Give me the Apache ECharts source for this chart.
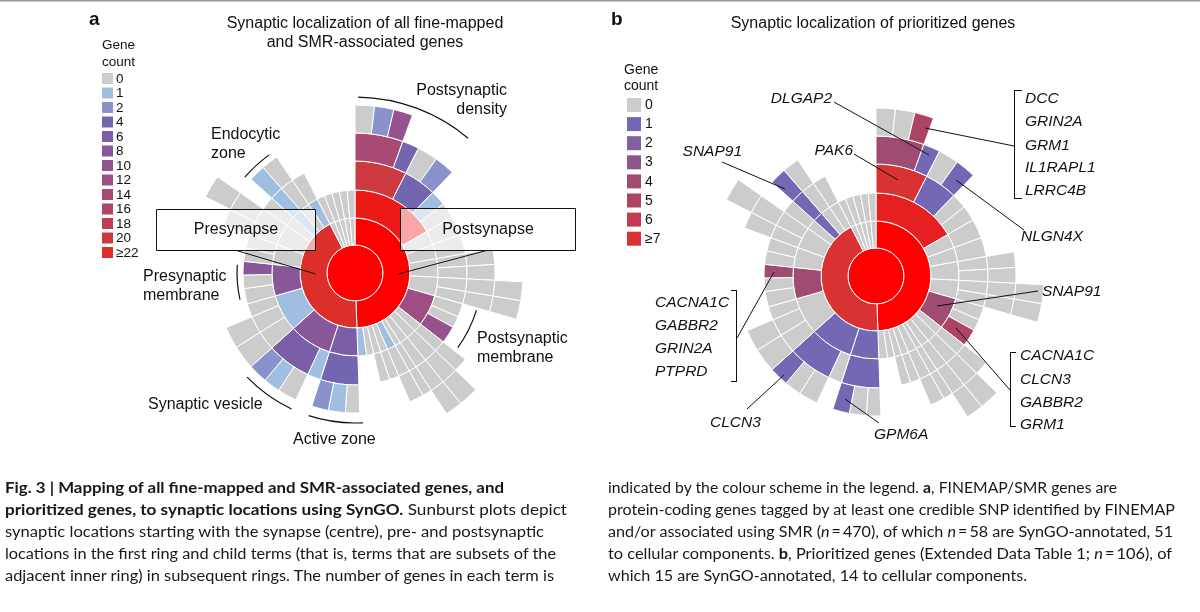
<!DOCTYPE html>
<html><head><meta charset="utf-8">
<script src="https://cdn.jsdelivr.net/npm/echarts@6/dist/echarts.min.js"></script>
<style>
html,body{margin:0;padding:0;background:#fff;width:1200px;height:612px;overflow:hidden;}
#chart{position:absolute;left:0;top:0;width:1200px;height:612px;}
.cap{position:absolute;white-space:nowrap;font-family:Lato,"Open Sans",sans-serif;font-size:15.5px;line-height:18px;color:#1a1718;transform-origin:0 50%;}
.cap b{font-weight:700;}
</style></head><body>
<div id="chart"></div>
<script>
// ---------------- legend bins / tick labels ----------------
const legendAValues = [0, 1, 2, 4, 6, 8, 10, 12, 14, 16, 18, 20, 22];
const legendALabels = ['0', '1', '2', '4', '6', '8', '10', '12', '14', '16', '18', '20', '≥22'];
const legendAColors = ['#cccccc', '#a0bfe0', '#8a92cc', '#7466ae', '#7a5ea6', '#88579a', '#94528e', '#9e4e82', '#a84a74', '#b24466', '#be3e58', '#cc3a40', '#dd2f2a'];
const legendBValues = [0, 1, 2, 3, 4, 5, 6, 7];
const legendBLabels = ['0', '1', '2', '3', '4', '5', '6', '≥7'];
const legendBColors = ['#cccccc', '#7468b4', '#80609e', '#8e5688', '#a04c72', '#ae4464', '#c03c50', '#d83232'];

// ---------------- SynGO cellular-component terms ----------------
// node: [gene count (a), gene count (b), angular size | child terms]
const synapseCount = [51, 14];
const postsynapseTerms = [35, 10, [
  [26, 8, [                                   // postsynaptic specialization
    [20, 7, [                                 // postsynaptic density
      [14, 4, [[0, 0, 6.7], [2, 0, 6.7], [10, 5, 6.6]]],
      [4, 1, 7]]],
    [4, 1, [[0, 0, 8.5], [2, 1, 8.5]]],
    [1, 0, 8],
    [0, 0, 8]]],
  [0, 0, [[0, 0, 10]]],
  [0, 0, [[0, 0, 10]]],
  [0, 0, [[0, 0, [[0, 0, 6.5]]], [0, 0, [[0, 0, 6.5]]]]],
  [0, 0, [[0, 0, [[0, 0, [[0, 0, 6.5]]]]], [0, 0, [[0, 0, [[0, 0, 6.5]]]]]]],
  [12, 4, [[0, 0, 7], [0, 0, 6], [10, 5, 9]]],  // postsynaptic membrane
  [0, 0, [[0, 0, [[0, 0, 6]]]]],
  [0, 0, [[0, 0, [[0, 0, [[0, 0, 7]]]]]]],
  [0, 0, [[0, 0, [[0, 0, [[0, 0, 6]]]]]]],
  [0, 0, [[0, 0, [[0, 0, 4]]]]],
  [1, 0, [[0, 0, [[0, 0, 6]]]]],
  [0, 0, [[0, 0, 5]]],
  [0, 0, [[0, 0, 5]]],
  [0, 0, 5],
  [1, 0, 6]
]];
const presynapseTerms = [22, 7, [
  [6, 1, [[4, 1, [[0, 0, 6], [1, 0, 7], [2, 1, 7]]]]],          // active zone
  [8, 1, [[1, 0, 7], [6, 1, [[0, 0, 8], [1, 0, 7], [2, 1, 8]]]]], // synaptic vesicle
  [1, 0, [[0, 0, [[0, 0, 10]]], [0, 0, [[0, 0, 9]]], [0, 0, 7]]],
  [8, 4, [[0, 0, 8], [0, 0, 7], [8, 4, 7]]],                      // presynaptic membrane
  [0, 0, [[0, 0, 7], [0, 0, 7]]],
  [0, 0, [[0, 0, [[0, 0, 7]]], [0, 0, [[0, 0, [[0, 0, 8]]]]]]],
  [0, 0, [[0, 0, 7]]],
  [1, 1, [[1, 1, [[1, 1, 7]]]]],                                  // endocytic zone
  [0, 0, [[0, 0, [[0, 0, 7]]]]],
  [1, 0, [[0, 0, 7]]]
]];
const otherSynapseTerms = [
  [0, 0, [[0, 0, 5.4]]], [0, 0, [[0, 0, 5.4]]], [0, 0, [[0, 0, 5.4]]],
  [0, 0, [[0, 0, 5.4]]], [0, 0, [[0, 0, 5.4]]]
];

// ---------------- helpers ----------------
function hex2rgb(h) { return [1, 3, 5].map(i => parseInt(h.substr(i, 2), 16)); }
function mix(a, b, t) { const A = hex2rgb(a), B = hex2rgb(b); return 'rgb(' + A.map((v, i) => Math.round(v + (B[i] - v) * t)).join(',') + ')'; }
function makeColor(bins, colors) {
  const max = bins[bins.length - 1];
  return function (c) {
    if (c >= max) { const t = Math.min(1, (c - max) / (max * 0.4)); return mix(colors[colors.length - 1], '#ff0000', t); }
    let i = 0; while (i + 1 < bins.length && bins[i + 1] <= c) i++;
    return colors[i];
  };
}
function toItem(node, k, colorFn) {
  const c = node[k], w = node[2];
  const item = { name: '', itemStyle: { color: colorFn(c) } };
  if (Array.isArray(w)) item.children = w.map(n => toItem(n, k, colorFn)); else item.value = w;
  return item;
}
function buildTree(k, colorFn) {
  return {
    name: 'synapse', itemStyle: { color: colorFn(synapseCount[k]) },
    children: [toItem(postsynapseTerms, k, colorFn), toItem(presynapseTerms, k, colorFn)]
      .concat(otherSynapseTerms.map(n => toItem(n, k, colorFn)))
  };
}
const LEVELS = [{}, { r0: 0, r: 28 }, { r0: 28, r: 55 }, { r0: 55, r: 83 }, { r0: 83, r: 112 }, { r0: 112, r: 140 }, { r0: 140, r: 168 }];
function sunburst(center, tree) {
  return {
    type: 'sunburst', center: center, radius: [0, 168], sort: null, nodeClick: false,
    startAngle: 90, silent: true, animation: false,
    data: [tree], label: { show: false }, emphasis: { disabled: true },
    itemStyle: { borderColor: '#ffffff', borderWidth: 1 }, levels: LEVELS
  };
}

// ---------------- annotation graphics ----------------
const G = [];
const FONT = '"Liberation Sans", Arial, Helvetica, sans-serif';
function txt(x, y, s, size, opt) {
  opt = opt || {};
  const font = (opt.italic ? 'italic ' : '') + (opt.bold ? 'bold ' : '') + size + 'px ' + FONT;
  const al = opt.align || 'left';
  G.push({ type: 'text', z: 110, silent: true, style: { text: s, x: x, y: y, font: font, fill: opt.color || '#111',
    textAlign: al, textVerticalAlign: 'middle', align: al, verticalAlign: 'middle' } });
}
function ln(x1, y1, x2, y2, w) { G.push({ type: 'line', z: 105, silent: true, shape: { x1, y1, x2, y2 }, style: { stroke: '#111', lineWidth: w || 1 } }); }
function arcDeg(cx, cy, r, a1, a2) {
  G.push({ type: 'arc', z: 105, silent: true, shape: { cx, cy, r, startAngle: (a1 - 90) * Math.PI / 180, endAngle: (a2 - 90) * Math.PI / 180, clockwise: true },
    style: { stroke: '#111', fill: null, lineWidth: 1.2 } });
}
function box(x, y, w, h) { G.push({ type: 'rect', z: 100, silent: true, shape: { x, y, width: w, height: h }, style: { fill: 'rgba(255,255,255,0.62)', stroke: '#111', lineWidth: 1 } }); }
function sw(x, y, w, h, color) { G.push({ type: 'rect', z: 100, silent: true, shape: { x, y, width: w, height: h }, style: { fill: color } }); }

// top rule
sw(0, 0, 1200, 1.5, '#999999');

// ---- panel a ----
const CA = [355, 273];
txt(89, 19.5, 'a', 19, { bold: true });
txt(365, 24, 'Synaptic localization of all fine-mapped', 16, { align: 'center' });
txt(365, 43, 'and SMR-associated genes', 16, { align: 'center' });
txt(102, 45, 'Gene', 13.5); txt(102, 62, 'count', 13.5);
legendALabels.forEach((l, i) => { sw(102, 73 + 14.5 * i, 11, 11, legendAColors[i]); txt(116, 73 + 14.5 * i + 5.8, l, 13.5); });
box(156.5, 209.5, 159, 41); box(400.5, 208.5, 175, 42);
txt(236, 230, 'Presynapse', 16, { align: 'center' });
txt(488, 230, 'Postsynapse', 16, { align: 'center' });
ln(236.5, 250.5, 315.7, 274); ln(486.5, 250.5, 398.3, 274);
txt(507, 90.5, 'Postsynaptic', 16, { align: 'right' }); txt(507, 109.5, 'density', 16, { align: 'right' });
arcDeg(CA[0], CA[1], 176, 1, 40);
txt(211, 134.5, 'Endocytic', 16); txt(211, 153.5, 'zone', 16);
arcDeg(CA[0], CA[1], 146, 311, 324);
txt(143, 277, 'Presynaptic', 16); txt(143, 296, 'membrane', 16);
arcDeg(CA[0], CA[1], 118, 257, 274);
txt(477, 338.5, 'Postsynaptic', 16); txt(477, 357.5, 'membrane', 16);
arcDeg(CA[0], CA[1], 127, 107, 126);
txt(148, 404.5, 'Synaptic vesicle', 16);
arcDeg(CA[0], CA[1], 150, 205, 226);
txt(293, 440, 'Active zone', 16);
arcDeg(CA[0], CA[1], 150, 177, 198);

// ---- panel b ----
const CB = [876, 276];
txt(611, 19.5, 'b', 19, { bold: true });
txt(873, 24, 'Synaptic localization of prioritized genes', 16, { align: 'center' });
txt(624, 70, 'Gene', 14); txt(624, 86, 'count', 14);
legendBLabels.forEach((l, i) => { sw(627, 98 + 19.1 * i, 14, 14, legendBColors[i]); txt(645, 98 + 19.1 * i + 7.3, l, 14); });
const IT = { italic: true };
txt(832, 99, 'DLGAP2', 15.5, { italic: true, align: 'right' }); ln(834, 102, 929, 155);
txt(853, 151, 'PAK6', 15.5, { italic: true, align: 'right' }); ln(854, 154, 898, 180);
txt(742, 152, 'SNAP91', 15.5, { italic: true, align: 'right' }); ln(722, 162, 785, 189);
['DCC', 'GRIN2A', 'GRM1', 'IL1RAPL1', 'LRRC4B'].forEach((g, i) => txt(1025, [99, 122, 145.5, 168, 191][i], g, 15.5, IT));
ln(1014.5, 90, 1014.5, 199); ln(1014.5, 90.5, 1022, 90.5); ln(1014.5, 198.5, 1022, 198.5); ln(1014, 146, 925, 128);
txt(1021, 237, 'NLGN4X', 15.5, IT); ln(1024, 230, 956, 180);
txt(1042, 292, 'SNAP91', 15.5, IT); ln(1038, 291, 937, 306);
['CACNA1C', 'GABBR2', 'GRIN2A', 'PTPRD'].forEach((g, i) => txt(655, [303, 326, 349, 372][i], g, 15.5, IT));
ln(736.5, 290, 736.5, 382); ln(731, 290.5, 736.5, 290.5); ln(731, 381.5, 736.5, 381.5); ln(737, 338, 774, 272);
['CACNA1C', 'CLCN3', 'GABBR2', 'GRM1'].forEach((g, i) => txt(1020, [356, 379.5, 402.5, 425][i], g, 15.5, IT));
ln(1010.5, 352, 1010.5, 427); ln(1010.5, 352.5, 1016, 352.5); ln(1010.5, 426.5, 1016, 426.5); ln(1010, 390, 956, 328);
txt(710, 423, 'CLCN3', 15.5, IT); ln(747, 409, 784, 375);
txt(874, 435, 'GPM6A', 15.5, IT); ln(879, 423, 845, 399);

const chart = echarts.init(document.getElementById('chart'), null, { renderer: 'canvas', width: 1200, height: 612 });
chart.setOption({
  animation: false,
  series: [
    sunburst(CA, buildTree(0, makeColor(legendAValues, legendAColors))),
    sunburst(CB, buildTree(1, makeColor(legendBValues, legendBColors)))
  ],
  graphic: { elements: G }
});

// ---------------- caption ----------------
const captionLeft = [
  '<b>Fig. 3 | Mapping of all fine-mapped and SMR-associated genes, and</b>',
  '<b>prioritized genes, to synaptic locations using SynGO.</b> Sunburst plots depict',
  'synaptic locations starting with the synapse (centre), pre- and postsynaptic',
  'locations in the first ring and child terms (that is, terms that are subsets of the',
  'adjacent inner ring) in subsequent rings. The number of genes in each term is'
];
const captionRight = [
  'indicated by the colour scheme in the legend. <b>a</b>, FINEMAP/SMR genes are',
  'protein-coding genes tagged by at least one credible SNP identified by FINEMAP',
  'and/or associated using SMR (<i>n</i>\u2009=\u2009470), of which <i>n</i>\u2009=\u200958 are SynGO-annotated, 51',
  'to cellular components. <b>b</b>, Prioritized genes (Extended Data Table 1; <i>n</i>\u2009=\u2009106), of',
  'which 15 are SynGO-annotated, 14 to cellular components.'
];
const capTops = [478.3, 500.2, 522, 543.9, 565.7];
function addLines(lines, left, rights) {
  lines.forEach((html, i) => {
    const d = document.createElement('div');
    d.className = 'cap'; d.innerHTML = html;
    d.style.left = left + 'px'; d.style.top = capTops[i] + 'px';
    document.body.appendChild(d);
    const w = d.getBoundingClientRect().width;
    d.style.transform = 'scaleX(' + ((rights[i] - left) / w).toFixed(4) + ')';
  });
}
addLines(captionLeft, 5, [504, 567, 544, 556, 554]);
addLines(captionRight, 608, [1117, 1175, 1173, 1172, 1027]);
</script>
</body></html>
